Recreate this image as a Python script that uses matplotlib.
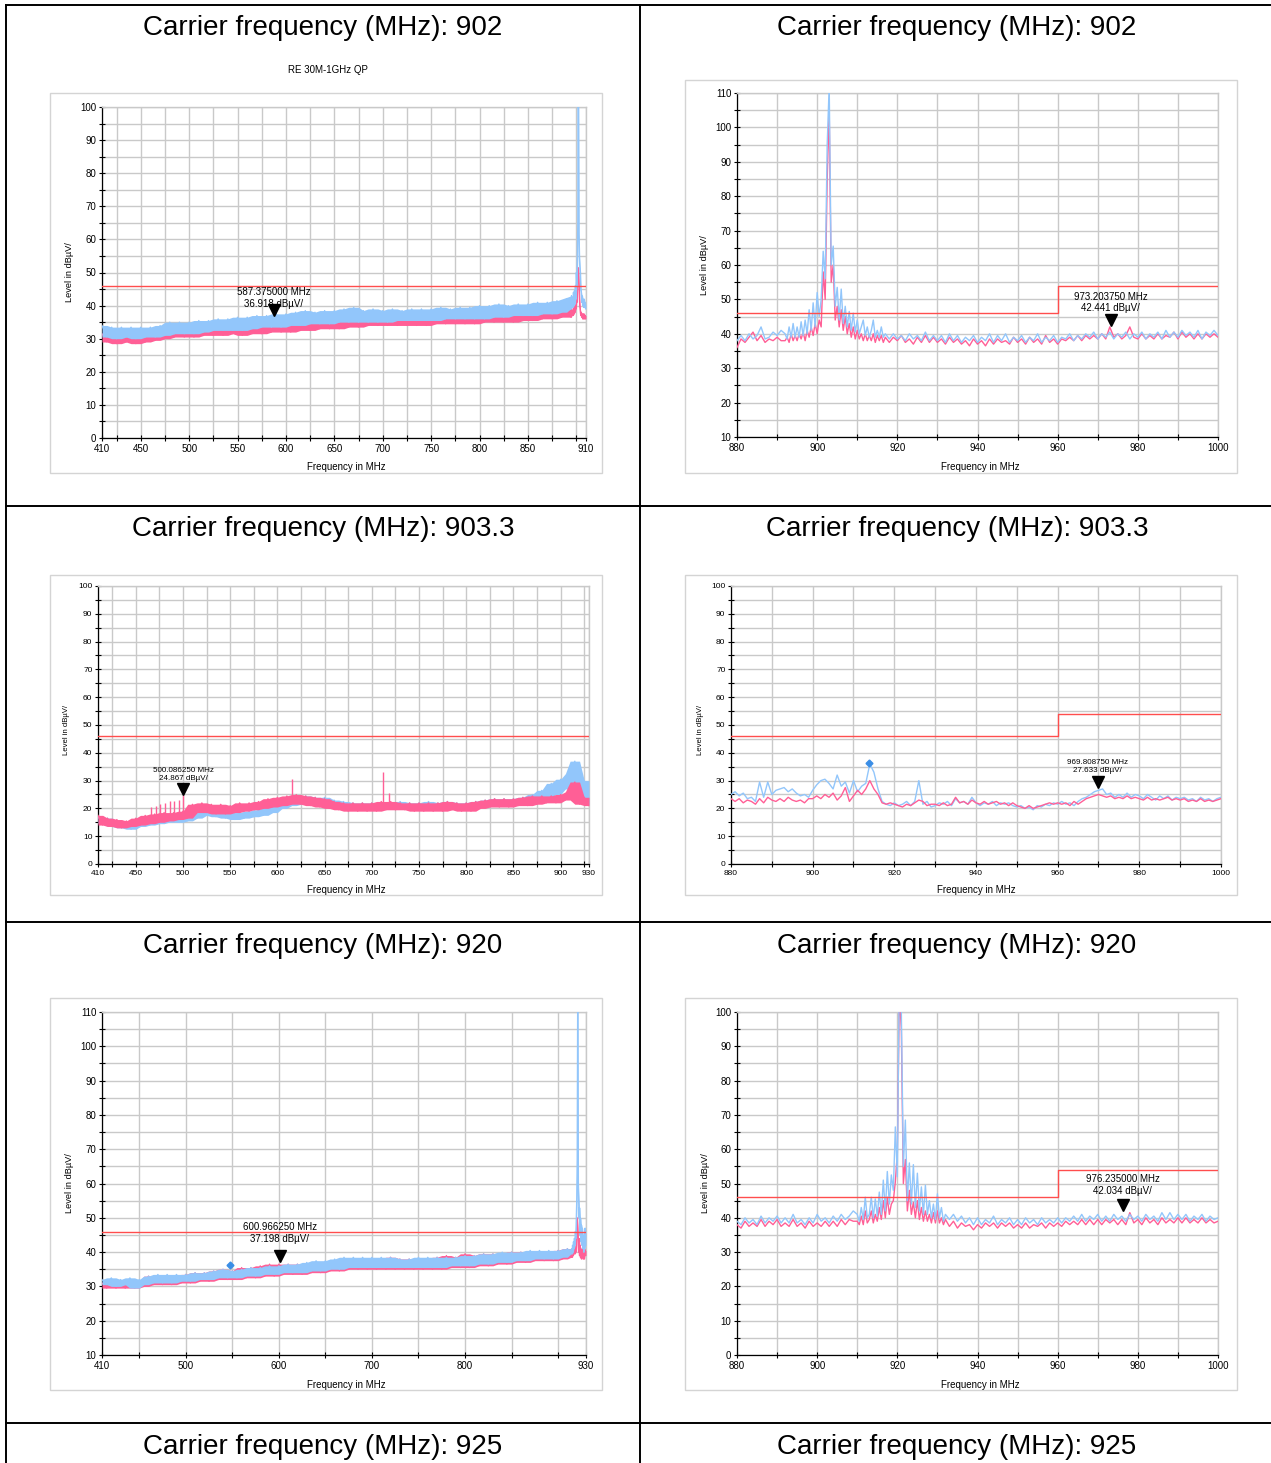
import numpy as np
import matplotlib.pyplot as plt
from matplotlib.lines import Line2D
from matplotlib.patches import Rectangle
from matplotlib.transforms import offset_copy

plt.rcParams['font.family'] = ['Liberation Sans', 'DejaVu Sans']

PINK = '#ff5f96'
BLUE = '#92c6fb'
LIMIT = '#ff4d4d'
GRID = '#c9c9c9'

W, H = 1271, 1463

carriers = ['902', '903.3', '920', '925']

# ---- panel 1: 410-910 MHz, 5 MHz steps + burst around the carrier ----
p1_blue = [34, 30.5, 33.5, 30, 33.5, 30.5, 33.5, 30, 33.5, 30.5,
           33.5, 30.5, 34, 31, 35, 31.5, 35, 31.5, 35, 31.5,
           35.5, 32, 35.5, 32.5, 36, 32.5, 36, 32.5, 36.5, 32.5,
           36.5, 33, 37, 33.5, 37, 33.5, 37.5, 33.5, 37.5, 34,
           38, 34, 38.5, 34.5, 38, 34.5, 38.5, 34.5, 38.5, 35,
           39, 35, 39.5, 35, 38.5, 35, 39, 35, 38.5, 35,
           39, 35.5, 38.5, 35.5, 39, 35.5, 39, 35.5, 39, 35.5,
           39.5, 36, 39, 36, 39.5, 36, 39.5, 36, 40, 36,
           40, 36.5, 40.5, 36.5, 40, 37, 40.5, 37, 40.5, 37,
           41, 37.5, 41, 37.5, 41.5, 38, 42, 38.5, 43, 45,
           40]
p1_pink = [31.5, 29, 31, 28.5, 31, 29, 30.5, 28.5, 31, 29,
           31, 29.5, 32, 30, 33.5, 30.5, 33.5, 30.5, 33, 30.5,
           33, 31, 33.5, 31, 34, 31, 35, 31.5, 33.5, 31,
           33.5, 31.5, 33.5, 31.5, 34, 32, 34, 32, 34, 32,
           34.5, 32.5, 34.5, 32.5, 35, 33, 35, 33, 35.5, 33,
           35.5, 33.5, 36, 33.5, 36, 34, 36, 34, 36, 34,
           36.5, 34, 36, 34, 36.5, 34, 36.5, 34, 37, 34.5,
           37, 34.5, 38, 34.5, 37, 34.5, 37, 34.5, 37.5, 35,
           37.5, 35, 37.5, 35, 38, 35, 38, 35.5, 38, 35.5,
           38.5, 36, 38.5, 36, 39, 36.5, 39, 36.5, 39.5, 38,
           37]
p1_blue_burst = [42.5, 39, 43, 39.5, 42.5, 39.5, 44, 40, 44.5, 40.5,
                 46, 42, 50, 46, 55, 65, 112, 62, 55, 52,
                 50, 45, 44, 41, 43, 40, 42, 39.5, 42, 39.5,
                 41, 39, 40]
p1_pink_burst = [38.5, 36.5, 39, 37, 38.5, 37, 39.5, 37.5, 40, 38,
                 41, 39, 43, 41, 46, 49, 51.5, 47, 43, 40,
                 38.5, 37, 38, 36.5, 37.5, 36, 37.5, 36, 37.5, 36,
                 37, 36, 37]

# ---- panel 2: 880-1000 MHz, 1 MHz steps ----
p2_blue = [38, 39.5, 38, 40, 38.5, 39.5, 42, 38.5, 39, 40.5,
           39.5, 41, 39, 40, 42, 39.5, 41, 40, 43, 41,
           45, 50, 60, 100, 60, 50, 48, 45, 44, 42,
           42, 41, 40, 42, 40, 41, 39, 40.5, 38.5, 40,
           38.5, 39.5, 38, 40, 38.5, 39.5, 38, 40.5, 38, 39.5,
           38, 39.5, 37.5, 40, 38, 39.5, 37.5, 39, 38, 39.5,
           37.5, 39, 38, 40, 37.5, 39.5, 38, 40, 37.5, 39,
           38, 39.5, 37.5, 39, 38, 40, 37.5, 39, 38, 39.5,
           37.5, 39, 38.5, 40, 38, 39.5, 38.5, 40, 39, 40.5,
           38.5, 40, 39, 40.5, 38.5, 40, 39, 40.5, 38.5, 40,
           39, 40.5, 38.5, 40, 39, 40.5, 38.5, 41, 39, 40.5,
           39, 41, 39.5, 40.5, 39, 41, 38.5, 40.5, 39.5, 41,
           39.5]
p2_pink = [36, 38.5, 37.5, 39, 40.5, 38, 39.5, 37.5, 38.5, 38,
           39, 38, 40, 38.5, 39, 38, 40, 38.5, 41, 39.5,
           42, 48, 58, 90, 55, 46, 45, 43, 42, 40,
           40, 39, 38.5, 39.5, 38, 39, 38, 39.5, 37.5, 39,
           38, 39.5, 37.5, 38.5, 37, 39, 37.5, 39.5, 37.5, 39,
           37.5, 38.5, 37, 39, 37.5, 38.5, 37, 38, 36.5, 38.5,
           37, 38, 36.5, 38.5, 37, 38.5, 37.5, 38, 37, 39,
           37.5, 38.5, 37, 39, 37.5, 38.5, 37, 39.5, 37.5, 38.5,
           37, 38.5, 38, 39, 38, 39.5, 38, 39.5, 38.5, 39.5,
           38.5, 40, 38.5, 42, 39, 40, 38.5, 39.5, 42, 39,
           38.5, 40, 38.5, 39.5, 38.5, 40, 38.5, 39.5, 39, 40.5,
           38.5, 40.5, 39, 40, 38.5, 40, 38.5, 40, 39, 40,
           39]
p2_blue_burst = [40, 38.5, 42, 39, 43, 39, 42, 39, 43.5, 39.5,
                 44, 40, 47, 41, 49, 42, 52, 45, 50, 64,
                 56, 95, 112, 60, 65.5, 48, 53.5, 44, 53, 43,
                 48, 42, 46.5, 41, 46, 40.5, 44, 40, 42, 44,
                 39.5, 42, 39, 41, 44, 39, 41, 39, 42, 39,
                 40]
p2_pink_burst = [38, 39, 37.5, 40, 38, 39.5, 38, 40, 38.5, 40.5,
                 38, 41, 39, 42, 39.5, 43, 40, 44, 42, 58,
                 50, 85, 105, 55, 60, 44, 48, 42, 47, 41,
                 45, 40, 43, 39, 42, 38.5, 41, 38.5, 40, 38,
                 40, 38, 39.5, 38, 40, 37.5, 39.5, 38, 39.5, 37.5,
                 39]

# ---- panel 3: 410-930 MHz, 5 MHz steps ----
p3_blue = [17, 14.5, 16.5, 13.5, 15.5, 13, 15, 12.5, 15.5, 13.5,
           16.5, 14, 16.5, 14.5, 17, 15, 17, 15, 17.5, 15.5,
           18.5, 16.5, 20, 17.5, 19.5, 17, 19, 16.5, 18.5, 16,
           18.5, 16.5, 19, 17, 19.5, 17.5, 20.5, 18.5, 22, 20,
           22.5, 21, 24, 21.5, 24.5, 21.5, 24, 21, 24, 21,
           23, 20.5, 22.5, 20, 22, 19.5, 22, 19.5, 22, 19.5,
           22, 20, 22, 20, 22.5, 20, 22, 19.5, 22, 19.5,
           22.5, 20, 22, 20, 22.5, 20, 22, 19.5, 22, 19.5,
           22.5, 20.5, 23, 21, 23.5, 21, 23.5, 21, 23.5, 21.5,
           24, 22, 25, 23, 26.5, 24, 29, 25, 30.5, 27,
           32.5, 37, 23, 30, 21.5]
p3_pink = [17.5, 14, 16.5, 13.5, 16, 13, 15.5, 13.5, 16.5, 14,
           17.5, 14.5, 18, 15, 18.5, 15.5, 18.5, 16, 19, 16.5,
           21.5, 18.5, 22, 18.5, 21.5, 18, 21.5, 18, 21, 18.5,
           22, 19, 22, 19.5, 22.5, 20, 23.5, 20.5, 24, 21,
           24.5, 21.5, 25, 21.5, 24.5, 21, 24, 20.5, 23.5, 20,
           22.5, 19.5, 22, 19, 22, 19, 22, 19, 22, 19,
           22.5, 19.5, 22.5, 19.5, 22, 19.5, 22, 19, 22, 19,
           22, 19, 22, 19, 22.5, 19.5, 22, 19, 22, 19,
           22.5, 20, 23, 20.5, 23.5, 20.5, 23.5, 20.5, 23.5, 21,
           24, 21, 24.5, 21.5, 24.5, 22, 24.5, 22, 25, 23,
           26, 29.5, 21.5, 24, 21]
p3_spike_f = [466, 471, 476, 481, 486, 491, 496, 500.1, 615, 711.5, 718]
p3_spike_lo = [17, 17, 17, 17.5, 17.5, 18, 18, 18, 22, 21, 21]
p3_spike_hi = [20.5, 21, 21.5, 22, 22.5, 22.5, 23, 24.9, 30.7, 33.1, 25.5]

# ---- panel 4: 880-1000 MHz, 1 MHz steps ----
p4_blue = [25, 26, 24.5, 25.5, 23.5, 24, 22.5, 29.5, 24, 29.5,
           25, 26.5, 27, 27.5, 26, 27, 25.5, 24.5, 25, 24,
           26.5, 28.5, 30, 30.5, 29, 27, 32, 28, 29.5, 25.5,
           30, 26, 28, 29, 36, 33, 27, 22.5, 21.5, 21,
           22, 21, 21.5, 22.5, 21, 22.5, 30, 21.5, 22.5, 20.5,
           21, 22, 21.5, 22.5, 21, 23.5, 22, 22.5, 21.5, 24,
           22, 21, 22, 21.5, 22.5, 21, 22, 21.5, 22, 21,
           20.5, 21, 20, 20.5, 19.5, 21, 20.5, 21.5, 21, 22,
           21.5, 22.5, 21.5, 22, 21, 22.5, 23.5, 24, 25, 26,
           26.5, 27, 25, 25.5, 24, 25, 24, 25.5, 24, 25,
           24.5, 23.5, 25, 24, 23, 24.5, 23.5, 24.5, 23, 24,
           23.5, 24, 23, 23.5, 22.5, 24, 23, 23.5, 22.5, 23.5,
           24]
p4_pink = [23.5, 22.5, 23.5, 22, 23, 22.5, 21.5, 23.5, 22, 24,
           23, 22.5, 23.5, 22.5, 24, 23, 22.5, 23, 22, 23.5,
           23.5, 24.5, 23.5, 25, 24, 25.5, 23, 24.5, 27.5, 22.5,
           24.5, 26.5, 25, 27, 30, 27, 25, 22, 21.5, 22,
           21.5, 21, 20.5, 21.5, 21, 22, 23, 22.5, 21, 21.5,
           21.5, 21, 22, 21, 21.5, 24, 22, 22.5, 21.5, 23,
           22, 21.5, 22.5, 21.5, 22, 22.5, 21.5, 22, 21, 22,
           21, 20.5, 20, 21, 20, 20.5, 21, 21.5, 22, 21.5,
           22, 21.5, 22, 21, 22.5, 21.5, 22.5, 23.5, 24, 24.5,
           25, 24.5, 24, 24.5, 23.5, 24, 23.5, 24.5, 23.5, 24,
           23.5, 23, 24, 23, 23.5, 23, 23.5, 24, 23, 23.5,
           23, 23.5, 22.5, 23, 22.5, 23.5, 22.5, 23, 22.5, 23,
           23.5]

# ---- panel 5: 410-930 MHz, 5 MHz steps + burst ----
p5_blue = [32, 30.5, 32.5, 30, 32, 30.5, 32.5, 29.5, 32, 30.5,
           33, 31, 33.5, 31, 33.5, 31, 33.5, 31.5, 33.5, 31.5,
           34, 32, 34, 32, 34.5, 32.5, 35, 32.5, 34.5, 32.5,
           35, 33, 35.5, 33, 35.5, 33.5, 36, 33.5, 36, 34,
           36.5, 34, 36.5, 34, 37, 34.5, 37.5, 34.5, 37.5, 35,
           38, 35, 38.5, 35.5, 38.5, 35.5, 38.5, 35.5, 38.5, 35.5,
           38.5, 35.5, 38.5, 35.5, 38, 35.5, 38, 35.5, 38.5, 35.5,
           38.5, 35.5, 38.5, 35.5, 38.5, 36, 38.5, 36, 39, 36,
           39, 36.5, 39.5, 36.5, 39.5, 37, 40, 37, 40, 37.5,
           40, 37.5, 40.5, 38, 40.5, 38, 40.5, 38, 40.5, 38.5,
           41, 39, 44, 46, 44]
p5_pink = [31, 29.5, 31.5, 29.5, 31, 29.5, 31.5, 29.5, 31.5, 30,
           33, 30.5, 32.5, 30.5, 33, 30.5, 33, 31, 33.5, 31,
           34, 31.5, 34, 31.5, 34.5, 32, 35, 32, 34.5, 32,
           35.5, 32.5, 35.5, 32.5, 36, 33, 36.5, 33, 36.5, 33.5,
           36.5, 33.5, 36.5, 33.5, 36.5, 34, 37, 34, 37, 34.5,
           37.5, 34.5, 38, 35, 38, 35, 38, 35, 38, 35,
           38, 35, 38.5, 35, 38, 35, 38, 35, 38, 35,
           38, 35, 38.5, 35, 39, 35.5, 38.5, 35.5, 39.5, 35.5,
           39, 36, 39.5, 36, 39.5, 36.5, 39.5, 36.5, 40, 37,
           40, 37, 40, 37.5, 40, 37.5, 40, 37.5, 40.5, 38,
           41, 38, 42, 40, 40]
p5_blue_burst = [39.5, 41, 39.5, 42, 40, 43, 41, 44, 42, 46,
                 44, 50, 55, 67, 112, 60, 56, 50, 53, 45,
                 50, 43, 48, 42, 47, 41, 45, 40, 44, 41,
                 47, 42, 45]
p5_pink_burst = [38.5, 40, 38.5, 40.5, 39, 41, 39.5, 42, 39.5, 41,
                 40, 43, 45, 50, 47, 42, 40, 44, 39, 42,
                 38.5, 41, 38, 40, 38.5, 41, 38, 40, 38, 41,
                 39, 40.5, 39]

# ---- panel 6: 880-1000 MHz, 1 MHz steps + burst ----
p6_blue = [39, 38, 40, 38.5, 39.5, 38, 40.5, 38.5, 40, 39,
           40.5, 38.5, 40, 38.5, 41, 38.5, 39.5, 38, 40, 38.5,
           41, 39, 40, 38.5, 40.5, 39, 41, 39.5, 40.5, 42,
           41, 40, 42, 41, 44, 45, 48, 52, 55, 60,
           70, 100, 65, 55, 52, 50, 48, 46, 44, 42,
           40, 39, 42, 39.5, 41, 39, 40.5, 38.5, 40, 38,
           40, 38, 39.5, 38.5, 40.5, 38, 39.5, 38.5, 40, 38,
           39.5, 38, 40, 38.5, 39.5, 38, 40, 38.5, 39.5, 38.5,
           40, 38.5, 40, 39, 40.5, 39, 41, 39, 40.5, 39.5,
           41, 39, 40.5, 39, 41, 39.5, 40.5, 39, 41, 39.5,
           40.5, 39, 41, 39.5, 40.5, 39, 41.5, 39.5, 41.5, 39.5,
           41, 39.5, 41, 39, 40.5, 39.5, 41, 39, 40.5, 39.5,
           40]
p6_pink = [38, 37, 39, 37.5, 38.5, 37.5, 39.5, 37.5, 39, 38,
           39.5, 37.5, 38.5, 37.5, 39.5, 37.5, 38.5, 37, 39, 37.5,
           38.5, 37.5, 39, 37.5, 39, 37.5, 39.5, 38, 39.5, 39,
           39, 39, 40, 40, 41, 42, 44, 46, 50, 55,
           60, 90, 55, 50, 46, 44, 42, 41, 40, 39,
           39, 38, 39.5, 37.5, 39, 37, 38.5, 37.5, 38, 36.5,
           38, 37, 38.5, 37.5, 38.5, 37, 38.5, 37.5, 38.5, 37,
           38, 37, 38.5, 37, 38, 37.5, 38.5, 37, 38.5, 37.5,
           38.5, 37.5, 39, 38, 39, 38, 39.5, 38, 39.5, 38,
           39.5, 38, 39.5, 38.5, 39.5, 38, 39.5, 38, 41.5, 38.5,
           39.5, 38, 40, 38.5, 39.5, 38, 40, 38.5, 39.5, 38.5,
           40, 38.5, 40, 38.5, 39.5, 38.5, 40, 38.5, 39.5, 38.5,
           39]
p6_blue_burst = [41, 39, 43, 39.5, 46, 40, 41, 46, 40, 45.5,
                 40.5, 47.5, 41, 51, 42, 53.5, 44, 52.5, 48, 66.5,
                 52, 112, 100, 55, 68.5, 45, 56, 44, 55.5, 43,
                 53, 42, 49, 41, 49.5, 41, 45, 40, 44, 39.5,
                 47, 40, 43, 39, 41]
p6_pink_burst = [39, 38, 40.5, 38, 42, 38.5, 39.5, 42, 38.5, 41,
                 39, 43, 39.5, 45, 40, 46, 41, 44, 45, 50.5,
                 59, 105, 95, 50, 57, 42, 48, 41, 44.5, 40,
                 45, 39.5, 43, 39, 42, 39, 41, 38.5, 41.5, 38.5,
                 42, 38.5, 40, 38, 39.5]

# limit lines
wide_limit_f = [410, 930]
wide_limit_v = [46, 46]
narrow_limit_f = [880, 960, 960, 1000]
narrow_limit_v = [46, 46, 54, 54]

# marker readouts (freq MHz, level dBuV)
marker_f = [587.375, 973.20375, 500.08625, 969.80875, 600.96625, 976.235]
marker_v = [36.918, 42.441, 24.867, 27.633, 37.198, 42.034]

# highlighted points (blue diamonds)
dot_f = [None, None, None, 913.9, 548, None]
dot_v = [None, None, None, 36.4, 36.2, None]

fig = plt.figure(figsize=(W / 100, H / 100), dpi=100)


def frect(x0, y0, x1, y1):
    return [x0 / W, 1 - y1 / H, (x1 - x0) / W, (y1 - y0) / H]


def trace(ax, f0, f1, vals, burst, burst_rng, color, z, band):
    v = np.asarray(vals, float)
    f = np.linspace(f0, f1, len(v))
    if burst is not None:
        b0, b1 = burst_rng
        bf = np.linspace(b0, b1, len(burst))
        keep = (f < b0) | (f > b1)
        f = np.concatenate([f[keep], bf])
        v = np.concatenate([v[keep], np.asarray(burst, float)])
        order = np.argsort(f, kind='stable')
        f, v = f[order], v[order]
    if band:
        # dense sweep: shade between the local lows and highs of the trace
        pad = np.concatenate([[v[0]], v, [v[-1]]])
        hi = np.maximum.reduce([pad[:-2], pad[1:-1], pad[2:]])
        lo = np.minimum.reduce([pad[:-2], pad[1:-1], pad[2:]])
        ax.fill_between(f, lo, hi, color=color, lw=0, zorder=z)
    ax.plot(f, v, color=color, lw=0.9 if band else 1.0, zorder=z)


panels = [
    dict(rect=(102, 107, 586, 438), box=(50, 93, 602, 473), xlim=(410, 910), ylim=(0, 100),
         xt=[410] + list(range(425, 901, 25)) + [910],
         xl=[410, 450, 500, 550, 600, 650, 700, 750, 800, 850, 910],
         blue=(p1_blue, p1_blue_burst, (894, 910)), pink=(p1_pink, p1_pink_burst, (894, 910)),
         pink_top=False, band=True, lim=(wide_limit_f, wide_limit_v), fs=7, yfs=6.7, mfs=7, tdy=7,
         ylab=(70, 272), xlab=(346, 467)),
    dict(rect=(737, 93, 1218, 437), box=(685, 80, 1237, 473), xlim=(880, 1000), ylim=(10, 110),
         xt=list(range(880, 1001, 10)), xl=list(range(880, 1001, 20)),
         blue=(p2_blue, p2_blue_burst, (892, 917)), pink=(p2_pink, p2_pink_burst, (892, 917)),
         pink_top=False, band=False, lim=(narrow_limit_f, narrow_limit_v), fs=7, yfs=6.7, mfs=7,
         tdy=12, ylab=(704, 265), xlab=(980, 467)),
    dict(rect=(98, 586, 589, 864), box=(50, 575, 602, 895), xlim=(410, 930), ylim=(0, 100),
         xt=[410] + list(range(425, 926, 25)) + [930],
         xl=[410, 450, 500, 550, 600, 650, 700, 750, 800, 850, 900, 930],
         blue=(p3_blue, None, None), pink=(p3_pink, None, None),
         pink_top=True, band=True, lim=(wide_limit_f, wide_limit_v), fs=6, yfs=5.6, mfs=5.8,
         tdy=13, ylab=(67, 730), xlab=(346, 890)),
    dict(rect=(731, 586, 1221, 864), box=(685, 575, 1237, 895), xlim=(880, 1000), ylim=(0, 100),
         xt=list(range(880, 1001, 10)), xl=list(range(880, 1001, 20)),
         blue=(p4_blue, None, None), pink=(p4_pink, None, None),
         pink_top=True, band=False, lim=(narrow_limit_f, narrow_limit_v), fs=6, yfs=5.6, mfs=5.8,
         tdy=13, ylab=(700, 730), xlab=(976, 890)),
    dict(rect=(102, 1012, 586, 1355), box=(50, 998, 602, 1390), xlim=(410, 930), ylim=(10, 110),
         xt=[410] + list(range(450, 901, 50)) + [930], xl=[410, 500, 600, 700, 800, 930],
         blue=(p5_blue, p5_blue_burst, (914, 930)), pink=(p5_pink, p5_pink_burst, (914, 930)),
         pink_top=False, band=True, lim=(wide_limit_f, wide_limit_v), fs=7, yfs=6.7, mfs=7,
         tdy=18, ylab=(70, 1183), xlab=(346, 1385)),
    dict(rect=(737, 1012, 1218, 1355), box=(685, 998, 1237, 1390), xlim=(880, 1000), ylim=(0, 100),
         xt=list(range(880, 1001, 10)), xl=list(range(880, 1001, 20)),
         blue=(p6_blue, p6_blue_burst, (910, 932)), pink=(p6_pink, p6_pink_burst, (910, 932)),
         pink_top=False, band=False, lim=(narrow_limit_f, narrow_limit_v), fs=7, yfs=6.7, mfs=7,
         tdy=15, ylab=(705, 1183), xlab=(980, 1385)),
]

for i, p in enumerate(panels):
    x0, y0, x1, y1 = p['rect']
    bx0, by0, bx1, by1 = p['box']
    fig.add_artist(Rectangle((bx0 / W, 1 - by1 / H), (bx1 - bx0) / W, (by1 - by0) / H,
                             transform=fig.transFigure, fill=False, ec='#d4d4d4', lw=1))
    ax = fig.add_axes(frect(x0, y0, x1, y1))
    ax.set_xlim(*p['xlim'])
    ax.set_ylim(*p['ylim'])
    ax.set_xticks(p['xt'])
    ax.set_xticklabels([str(t) if t in p['xl'] else '' for t in p['xt']])
    yt = list(range(p['ylim'][0], p['ylim'][1] + 1, 5))
    ax.set_yticks(yt)
    ax.set_yticklabels([str(t) if t % 10 == 0 else '' for t in yt])
    ax.grid(True, color=GRID, lw=1.0)
    ax.set_axisbelow(True)
    for s in ['top', 'right']:
        ax.spines[s].set_color(GRID)
        ax.spines[s].set_linewidth(1.0)
    for s in ['left', 'bottom']:
        ax.spines[s].set_color('black')
        ax.spines[s].set_linewidth(0.9)
    ax.tick_params(direction='inout', length=5, width=0.8, pad=1.5, labelsize=p['fs'])

    zb, zp = (3, 4) if p['pink_top'] else (4, 3)
    bv, bb, br = p['blue']
    pv, pb, pr = p['pink']
    trace(ax, p['xlim'][0], p['xlim'][1], pv, pb, pr, PINK, zp, p['band'])
    trace(ax, p['xlim'][0], p['xlim'][1], bv, bb, br, BLUE, zb, p['band'])
    if i == 2:
        ax.vlines(p3_spike_f, p3_spike_lo, p3_spike_hi, color=PINK, lw=1.0, zorder=5)

    lf, lv = p['lim']
    ax.plot(lf, lv, color=LIMIT, lw=1.0, zorder=6)

    if dot_f[i] is not None:
        ax.plot(dot_f[i], dot_v[i], marker='D', ms=3.5, color='#3a8ee6', zorder=7)

    mf, mv = marker_f[i], marker_v[i]
    ax.plot(mf, mv, marker='v', ms=8, color='black', zorder=8,
            transform=offset_copy(ax.transData, fig=fig, x=0, y=5.5, units='dots'))
    ax.text(mf, mv, f'{mf:.6f} MHz\n{mv:.3f} dBµV/', ha='center', va='bottom',
            fontsize=p['mfs'], linespacing=1.2, zorder=9,
            transform=offset_copy(ax.transData, fig=fig, x=0, y=p['tdy'], units='dots'))

    lx, ly = p['ylab']
    fig.text(lx / W, 1 - ly / H, 'Level in dBµV/', rotation=90, ha='center', va='center',
             fontsize=p['yfs'])
    lx, ly = p['xlab']
    fig.text(lx / W, 1 - ly / H, 'Frequency in MHz', ha='center', va='center', fontsize=7)

fig.text(328 / W, 1 - 70 / H, 'RE 30M-1GHz QP', ha='center', va='center', fontsize=7)


# table frame
def hline(y, xa=6, xb=W):
    fig.add_artist(Line2D([xa / W, xb / W], [1 - y / H, 1 - y / H], color='black', lw=1.4))


def vline(x, ya=5, yb=H):
    fig.add_artist(Line2D([x / W, x / W], [1 - ya / H, 1 - yb / H], color='black', lw=1.4))


for y in [5, 506, 922, 1423]:
    hline(y)
vline(6)
vline(640)

title_y = [28, 529, 946, 1447]
for cy, c in zip(title_y, carriers):
    for cx in [323, 957]:
        fig.text(cx / W, 1 - cy / H, f'Carrier frequency (MHz): {c}', ha='center', va='center',
                 fontsize=20)

fig.savefig('out.png', dpi=100)
